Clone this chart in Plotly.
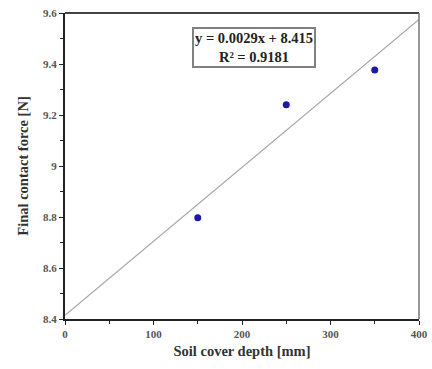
import plotly.graph_objects as go

depth = [150, 250, 350]
force = [8.797, 9.240, 9.376]
slope, intercept = 0.0029, 8.415
trend_x = [0, 400]
trend_y = [intercept + slope * v for v in trend_x]
x_ticks = [0, 100, 200, 300, 400]
y_ticks = [8.4, 8.6, 8.8, 9.0, 9.2, 9.4, 9.6]
y_tick_text = ["8.4", "8.6", "8.8", "9", "9.2", "9.4", "9.6"]

font = "Liberation Serif, Times New Roman, serif"

fig = go.Figure()
fig.add_trace(go.Scatter(x=trend_x, y=trend_y, mode="lines",
                         line=dict(color="#a8a8a8", width=1.2), showlegend=False, cliponaxis=False))
fig.add_trace(go.Scatter(x=depth, y=force, mode="markers",
                         marker=dict(color="#1a1aa6", size=7), showlegend=False))

fig.add_annotation(xref="paper", yref="paper", x=0.535, y=0.886, xanchor="center", yanchor="middle",
                   text="<b>y = 0.0029x + 8.415<br>R² = 0.9181</b>", showarrow=False,
                   font=dict(family=font, size=14.5, color="#222"),
                   bordercolor="#808080", borderwidth=2, borderpad=1, bgcolor="white", align="center")

tickfont = dict(family=font, size=11, color="#555", weight="bold")
titlefont = dict(family=font, size=14.5, color="#333")
fig.update_layout(
    width=432, height=369,
    margin=dict(l=65, r=13, t=13, b=50, autoexpand=False),
    paper_bgcolor="white", plot_bgcolor="white",
    font=dict(family=font, color="#333"),
    xaxis=dict(range=[0, 400], tickvals=x_ticks, showgrid=False, zeroline=False, automargin=False,
               showline=True, linecolor="#222", linewidth=2, mirror=False, ticklabeloverflow="allow",
               ticks="outside", ticklen=4, tickcolor="#222",
               minor=dict(dtick=50, ticks="outside", ticklen=3, tickcolor="#222"),
               tickfont=tickfont,
               title=dict(text="<b>Soil cover depth [mm]</b>", font=titlefont, standoff=7)),
    yaxis=dict(range=[8.4, 9.6], tickvals=y_ticks, ticktext=y_tick_text, showgrid=False, zeroline=False, automargin=False,
               showline=True, linecolor="#222", linewidth=2, ticklabeloverflow="allow",
               ticks="outside", ticklen=4, tickcolor="#222",
               minor=dict(dtick=0.1, ticks="outside", ticklen=3, tickcolor="#222"),
               tickfont=tickfont,
               title=dict(text="<b>Final contact force [N]</b>", font=titlefont, standoff=11)),
)
fig.add_shape(type="line", xref="paper", yref="paper", x0=0, x1=1, y0=1, y1=1, line=dict(color="#444", width=2))
fig.add_shape(type="line", xref="paper", yref="paper", x0=1, x1=1, y0=0, y1=1, line=dict(color="#777", width=1.5))

fig.write_html("out.html", config={"displayModeBar": False},
               post_script="document.body.style.margin='0';document.body.style.overflow='hidden';")
